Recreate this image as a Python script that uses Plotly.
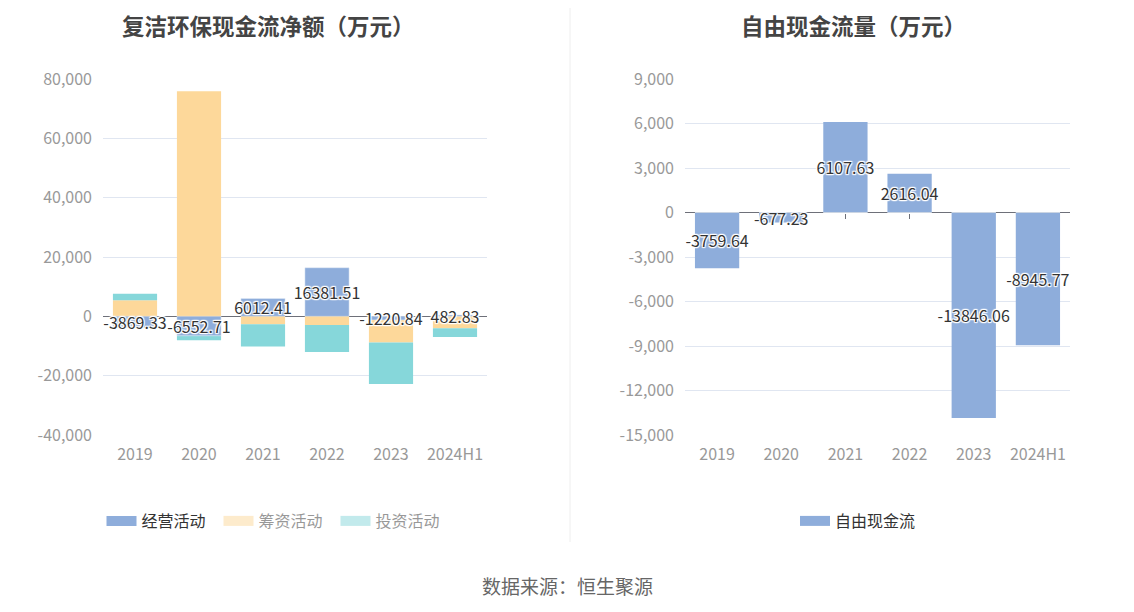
import plotly.graph_objects as go

years = ['2019', '2020', '2021', '2022', '2023', '2024H1']
operating = [-3869.33, -6552.71, 6012.41, 16381.51, -1220.84, 482.83]
financing = [5450, 75900, -2700, -2900, -7600, -4000]
investing = [2150, -1500, -7500, -9100, -14000, -3000]
free_cf = [-3759.64, -677.23, 6107.63, 2616.04, -13846.06, -8945.77]

left_tickvals = [-40000, -20000, 0, 20000, 40000, 60000, 80000]
left_ticktext = ['-40,000', '-20,000', '0', '20,000', '40,000', '60,000', '80,000']
right_tickvals = [-15000, -12000, -9000, -6000, -3000, 0, 3000, 6000, 9000]
right_ticktext = ['-15,000', '-12,000', '-9,000', '-6,000', '-3,000', '0', '3,000', '6,000', '9,000']

titles = ['复洁环保现金流净额（万元）', '自由现金流量（万元）']
legend_names = ['经营活动', '筹资活动', '投资活动']
source_text = '数据来源：恒生聚源'

BLUE = '#8eaddb'
ORANGE = '#fdd89a'
CYAN = '#86d7da'
GRID = '#e0e6f1'
AXIS = '#6e7079'
FONT = 'Noto Sans CJK SC, Microsoft YaHei, sans-serif'
SHADOW = '1px 1px 1px #fff, -1px -1px 1px #fff, 1px -1px 1px #fff, -1px 1px 1px #fff, 0 1px 1px #fff, 0 -1px 1px #fff'

W, H = 1134, 612
OFF = 8  # page body margin


def fx(px):
    return (px - OFF) / W


def fy(py):
    return 1 - (py - OFF) / H


xl = [fx(103), fx(487)]
xr = [fx(685), fx(1070)]
yd = [fy(435), fy(79)]
lrange = [min(left_tickvals), max(left_tickvals)]
rrange = [min(right_tickvals), max(right_tickvals)]


def zero_pos(rng):
    return yd[0] + (0 - rng[0]) / (rng[1] - rng[0]) * (yd[1] - yd[0])


fig = go.Figure()

# left stacked bars
for name, vals, col in zip(legend_names, [operating, financing, investing], [BLUE, ORANGE, CYAN]):
    fig.add_trace(go.Bar(x=years, y=vals, name=name, marker=dict(color=col, line=dict(width=0)),
                         xaxis='x', yaxis='y', showlegend=False, hoverinfo='x+y'))

# labels on operating bars (overlay so they sit above the stack)
fig.add_trace(go.Bar(x=years, y=operating, xaxis='x3', yaxis='y3', showlegend=False,
                     marker=dict(color='rgba(0,0,0,0)'),
                     text=[f'{v:.2f}' for v in operating], textposition='inside', textangle=0,
                     insidetextanchor='middle', constraintext='none',
                     insidetextfont=dict(color='#333', size=16, family=FONT, shadow=SHADOW),
                     hoverinfo='skip'))

# right bars
fig.add_trace(go.Bar(x=years, y=free_cf, name='自由现金流', marker=dict(color=BLUE, line=dict(width=0)),
                     xaxis='x2', yaxis='y2', showlegend=False,
                     text=[f'{v:.2f}' for v in free_cf], textposition='inside', textangle=0,
                     insidetextanchor='middle', constraintext='none',
                     insidetextfont=dict(color='#333', size=16, family=FONT, shadow=SHADOW)))

# invisible bars so the right tick overlay axis exists
fig.add_trace(go.Bar(x=years, y=[0] * len(years), xaxis='x4', yaxis='y2', showlegend=False,
                     marker=dict(color='rgba(0,0,0,0)'), hoverinfo='skip'))

# legend items
for i, (name, col) in enumerate(zip(legend_names, [BLUE, ORANGE, CYAN])):
    fig.add_trace(go.Scatter(x=[None], y=[None], mode='lines', name=name,
                             line=dict(color=col, width=16), legend='legend',
                             visible=True if i == 0 else 'legendonly',
                             xaxis='x', yaxis='y'))
fig.add_trace(go.Scatter(x=[None], y=[None], mode='lines', name='自由现金流',
                         line=dict(color=BLUE, width=16), legend='legend2',
                         xaxis='x2', yaxis='y2'))

tickfont = dict(color='#999', size=16, family=FONT)

fig.update_layout(
    width=W, height=H, margin=dict(l=0, r=0, t=0, b=0, pad=0, autoexpand=False),
    paper_bgcolor='white', plot_bgcolor='white',
    barmode='relative', bargap=0.31,
    font=dict(family=FONT, color='#333'),
    xaxis=dict(domain=xl, anchor='y', type='category', showgrid=False, showline=False,
               ticks='', tickfont=tickfont, ticklabelstandoff=8, automargin=False),
    yaxis=dict(domain=yd, anchor='x', range=lrange, tickvals=left_tickvals, ticktext=left_ticktext,
               showgrid=True, gridcolor=GRID, gridwidth=1, zeroline=True, zerolinecolor=AXIS,
               zerolinewidth=1, tickfont=tickfont, ticklabelstandoff=10, showline=False, automargin=False),
    xaxis3=dict(overlaying='x', anchor='free', position=zero_pos(lrange), type='category',
                showgrid=False, showline=False, ticks='outside', ticklen=5, tickcolor=AXIS,
                showticklabels=False, layer='below traces', automargin=False),
    yaxis3=dict(overlaying='y', anchor='x3', range=lrange, visible=False),
    xaxis2=dict(domain=xr, anchor='y2', type='category', showgrid=False, showline=False,
                ticks='', tickfont=tickfont, ticklabelstandoff=8, automargin=False),
    yaxis2=dict(domain=yd, anchor='x2', range=rrange, tickvals=right_tickvals, ticktext=right_ticktext,
                showgrid=True, gridcolor=GRID, gridwidth=1, zeroline=True, zerolinecolor=AXIS,
                zerolinewidth=1, tickfont=tickfont, ticklabelstandoff=10, showline=False, automargin=False),
    xaxis4=dict(overlaying='x2', anchor='free', position=zero_pos(rrange), type='category',
                showgrid=False, showline=False, ticks='outside', ticklen=5, tickcolor=AXIS,
                showticklabels=False, layer='below traces', automargin=False),
    legend=dict(orientation='h', x=fx(277), xanchor='center', y=fy(521), yanchor='middle',
                entrywidth=72, font=dict(size=16, color='#333', family=FONT), bgcolor='rgba(0,0,0,0)'),
    legend2=dict(orientation='h', x=fx(858), xanchor='center', y=fy(521), yanchor='middle',
                 font=dict(size=16, color='#333', family=FONT), bgcolor='rgba(0,0,0,0)'),
    annotations=[
        dict(text=f'<b>{titles[0]}</b>', x=fx(268), y=1, xref='paper', yref='paper',
             xanchor='center', yanchor='top', borderpad=0,
             showarrow=False, font=dict(size=22.5, color='#444', family=FONT)),
        dict(text=f'<b>{titles[1]}</b>', x=fx(853), y=1, xref='paper', yref='paper',
             xanchor='center', yanchor='top', borderpad=0,
             showarrow=False, font=dict(size=22.5, color='#444', family=FONT)),
        dict(text=source_text, x=fx(567), y=fy(585), xref='paper', yref='paper',
             xanchor='center', yanchor='middle',
             showarrow=False, font=dict(size=19, color='#666', family=FONT)),
    ],
    shapes=[dict(type='line', xref='paper', yref='paper', x0=fx(570), x1=fx(570),
                 y0=fy(542), y1=1, line=dict(color='#eeeeee', width=1))],
    hovermode='closest',
)

fig.write_html('out.html')
